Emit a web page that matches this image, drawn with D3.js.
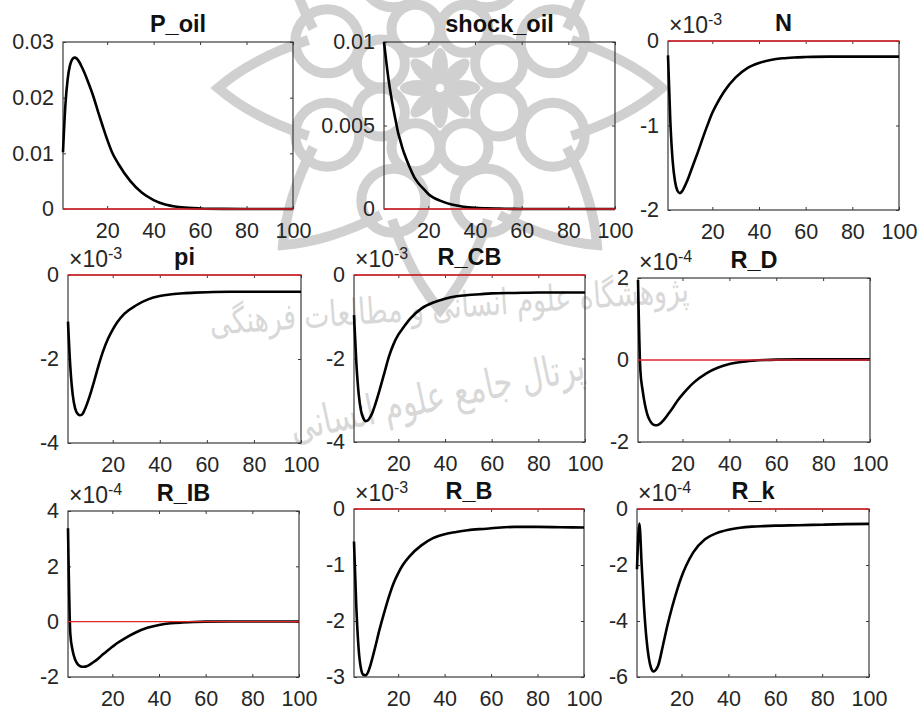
<!DOCTYPE html>
<html>
<head>
<meta charset="utf-8">
<script src="https://cdn.jsdelivr.net/npm/d3@7"></script>
<style>
body { margin: 0; background: #fff; }
svg { display: block; }
text { font-family: "Liberation Sans", Arial, Helvetica, sans-serif; }
</style>
</head>
<body>
<svg id="chart" width="924" height="716"></svg>
<script>
var periods = [1, 2, 3, 4, 5, 6, 7, 8, 9, 10, 12, 14, 16, 18, 20, 22, 25, 30, 35, 40, 45, 50, 55, 60, 70, 80, 90, 100];

// impulse responses, in the units shown on each panel (x10^exp where given)
var P_oil     = [0.0102, 0.0185, 0.0233, 0.0258, 0.0269, 0.0272, 0.0270, 0.0264, 0.0256, 0.0247, 0.0226, 0.0203, 0.0176, 0.0150, 0.0125, 0.0103, 0.0080, 0.0050, 0.0029, 0.0016, 0.0008, 0.0004, 0.0002, 0.0001, 0.00002, 0, 0, 0];
var shock_oil = [0.0100, 0.0088, 0.0077, 0.0068, 0.0060, 0.0053, 0.0046, 0.0041, 0.0036, 0.0032, 0.0025, 0.0019, 0.0015, 0.0012, 0.0009, 0.0007, 0.0005, 0.00027, 0.00014, 0.00007, 0.00004, 0.00002, 0.00001, 0, 0, 0, 0, 0];
var N         = [-0.17, -0.95, -1.42, -1.66, -1.77, -1.80, -1.78, -1.73, -1.67, -1.60, -1.45, -1.30, -1.14, -0.99, -0.85, -0.74, -0.60, -0.43, -0.32, -0.26, -0.225, -0.205, -0.195, -0.19, -0.185, -0.185, -0.185, -0.185];
var pi        = [-1.11, -2.20, -2.85, -3.17, -3.30, -3.34, -3.32, -3.22, -3.08, -2.92, -2.55, -2.15, -1.80, -1.52, -1.30, -1.12, -0.92, -0.72, -0.58, -0.50, -0.46, -0.435, -0.42, -0.41, -0.40, -0.40, -0.40, -0.40];
var R_CB      = [-0.96, -2.10, -2.85, -3.25, -3.43, -3.50, -3.48, -3.40, -3.28, -3.12, -2.75, -2.35, -1.95, -1.65, -1.43, -1.27, -1.05, -0.80, -0.66, -0.57, -0.51, -0.48, -0.46, -0.44, -0.43, -0.42, -0.42, -0.42];
var R_D       = [1.95, -0.25, -0.75, -1.10, -1.33, -1.47, -1.55, -1.585, -1.59, -1.57, -1.46, -1.31, -1.15, -0.98, -0.84, -0.71, -0.54, -0.33, -0.19, -0.10, -0.05, -0.02, 0, 0.01, 0.015, 0.015, 0.015, 0.015];
var R_IB      = [3.38, -0.45, -1.05, -1.36, -1.52, -1.60, -1.63, -1.63, -1.61, -1.57, -1.46, -1.33, -1.18, -1.04, -0.91, -0.78, -0.62, -0.39, -0.22, -0.12, -0.06, -0.03, -0.01, 0, 0.005, 0.005, 0.005, 0.005];
var R_B       = [-0.58, -1.75, -2.50, -2.85, -2.96, -2.97, -2.92, -2.80, -2.65, -2.49, -2.15, -1.85, -1.57, -1.33, -1.15, -1.00, -0.84, -0.65, -0.52, -0.45, -0.41, -0.38, -0.36, -0.345, -0.32, -0.32, -0.325, -0.33];
var R_k       = [-2.15, -0.52, -2.00, -3.50, -4.60, -5.30, -5.68, -5.80, -5.75, -5.60, -4.90, -4.15, -3.50, -2.92, -2.42, -2.02, -1.55, -1.08, -0.86, -0.74, -0.67, -0.63, -0.61, -0.595, -0.58, -0.56, -0.54, -0.53];

var titles = ["P_oil", "shock_oil", "N", "pi", "R_CB", "R_D", "R_IB", "R_B", "R_k"];
var seriesList = [P_oil, shock_oil, N, pi, R_CB, R_D, R_IB, R_B, R_k];
var yTicks = [
  [0, 0.01, 0.02, 0.03],
  [0, 0.005, 0.01],
  [-2, -1, 0],
  [-4, -2, 0],
  [-4, -2, 0],
  [-2, 0, 2],
  [-2, 0, 2, 4],
  [-3, -2, -1, 0],
  [-6, -4, -2, 0]
];
var exponents = [0, 0, -3, -3, -3, -4, -4, -3, -4];
var xTicks = [20, 40, 60, 80, 100];
var xDomain = [1, 100];

// watermark texts
var watermarkLines = ["پژوهشگاه علوم انسانی و مطالعات فرهنگی", "پرتال جامع علوم انسانی"];

// axes boxes [left, top, right, bottom]
var boxes = [
  [63, 42, 293, 209], [384, 42, 615, 209], [668, 41, 899, 210],
  [68, 275, 301, 443], [354, 275, 585, 442], [638, 278, 870, 442],
  [68, 511, 299, 677], [354, 509, 584, 677], [637, 509, 869, 677]
];

var svg = d3.select("#chart");
svg.append("rect").attr("width", 924).attr("height", 716).attr("fill", "#fff");

// ---- faint watermark (logo + text) ----
var wm = svg.append("g").attr("class", "watermark");
var wmColor = "#d0d0d0";
var cx = 440, cy = 88;
function polar(r, deg) {
  var a = deg * Math.PI / 180;
  return [cx + r * Math.cos(a), cy + r * Math.sin(a)];
}
d3.range(8).forEach(function(k) {
  var a = k * 45;
  // outer pointed arches
  var p1 = polar(140, a - 20), t = polar(222, a), p2 = polar(140, a + 20);
  var q1 = polar(190, a - 9), q2 = polar(190, a + 9);
  wm.append("path")
    .attr("d", "M" + p1 + "Q" + q1 + " " + t + "Q" + q2 + " " + p2)
    .attr("fill", "none").attr("stroke", wmColor).attr("stroke-width", 10);
  // inner ring
  var c1 = polar(64, a + 22.5);
  wm.append("circle").attr("cx", c1[0]).attr("cy", c1[1]).attr("r", 24)
    .attr("fill", "none").attr("stroke", wmColor).attr("stroke-width", 10);
  // outer ring
  var c2 = polar(122, a + 22.5);
  wm.append("circle").attr("cx", c2[0]).attr("cy", c2[1]).attr("r", 32)
    .attr("fill", "none").attr("stroke", wmColor).attr("stroke-width", 10);
  // rosette petals
  var c3 = polar(22, a);
  wm.append("ellipse").attr("cx", c3[0]).attr("cy", c3[1]).attr("rx", 18).attr("ry", 8)
    .attr("transform", "rotate(" + a + "," + c3[0] + "," + c3[1] + ")")
    .attr("fill", wmColor);
});
wm.append("text")
  .attr("transform", "translate(450,318) rotate(-4)")
  .attr("text-anchor", "middle")
  .attr("textLength", 480).attr("lengthAdjust", "spacingAndGlyphs")
  .style("font-family", "'DejaVu Sans', sans-serif")
  .style("font-size", "36px")
  .attr("fill", "#d8d8d8")
  .text(watermarkLines[0]);
wm.append("text")
  .attr("transform", "translate(440,410) rotate(-12)")
  .attr("text-anchor", "middle")
  .attr("textLength", 300).attr("lengthAdjust", "spacingAndGlyphs")
  .style("font-family", "'DejaVu Sans', sans-serif")
  .style("font-size", "42px")
  .attr("fill", "#d8d8d8")
  .text(watermarkLines[1]);

// ---- panels ----
var textColor = "#262626";
var boxColor = "#3a3a3a";

titles.forEach(function(title, i) {
  var b = boxes[i];
  var vals = seriesList[i];
  var ticks = yTicks[i];
  var x = d3.scaleLinear().domain(xDomain).range([b[0], b[2]]);
  var y = d3.scaleLinear().domain(d3.extent(ticks)).range([b[3], b[1]]);
  var g = svg.append("g").attr("class", "panel");

  var bottom = g.append("g").attr("transform", "translate(0," + b[3] + ")")
    .call(d3.axisBottom(x).tickValues(xTicks).tickSizeInner(-3).tickSizeOuter(0).tickPadding(14));
  var top = g.append("g").attr("transform", "translate(0," + b[1] + ")")
    .call(d3.axisTop(x).tickValues(xTicks).tickSizeInner(-3).tickSizeOuter(0).tickFormat(""));
  var left = g.append("g").attr("transform", "translate(" + b[0] + ",0)")
    .call(d3.axisLeft(y).tickValues(ticks).tickSizeInner(-3).tickSizeOuter(0).tickPadding(9)
      .tickFormat(function(d) { return String(d); }));
  var right = g.append("g").attr("transform", "translate(" + b[2] + ",0)")
    .call(d3.axisRight(y).tickValues(ticks).tickSizeInner(-3).tickSizeOuter(0).tickFormat(""));

  [bottom, top, left, right].forEach(function(ax) {
    ax.select(".domain").remove();
    ax.selectAll("line").attr("stroke", boxColor).attr("stroke-width", 1);
    ax.selectAll("text").attr("fill", textColor)
      .style("font-size", "21.5px").style("font-family", "'Liberation Sans', Arial, sans-serif");
  });

  g.append("rect")
    .attr("x", b[0]).attr("y", b[1])
    .attr("width", b[2] - b[0]).attr("height", b[3] - b[1])
    .attr("fill", "none").attr("stroke", boxColor).attr("stroke-width", 1.2);

  var pts = periods.map(function(p, j) { return [p, vals[j]]; });
  var line = d3.line()
    .x(function(d) { return x(d[0]); })
    .y(function(d) { return y(d[1]); })
    .curve(d3.curveMonotoneX);

  g.append("path").datum(pts)
    .attr("d", line)
    .attr("fill", "none")
    .attr("stroke", "#000")
    .attr("stroke-width", 2.6)
    .attr("stroke-linejoin", "round");

  g.append("path").datum([[xDomain[0], 0], [xDomain[1], 0]])
    .attr("d", d3.line().x(function(d) { return x(d[0]); }).y(function(d) { return y(d[1]); }))
    .attr("fill", "none")
    .attr("stroke", "#e3242b")
    .attr("stroke-width", 1.3);

  g.append("text")
    .attr("x", (b[0] + b[2]) / 2).attr("y", b[1] - 10)
    .attr("text-anchor", "middle")
    .attr("fill", "#111")
    .style("font-size", "23.5px").style("font-weight", "bold")
    .text(title);

  if (exponents[i] !== 0) {
    var ex = g.append("text")
      .attr("x", b[0] + 1).attr("y", b[1] - 8)
      .attr("fill", textColor)
      .style("font-size", "23px");
    ex.append("tspan").text("\u00d710");
    ex.append("tspan").attr("dy", -8).style("font-size", "16px").text(String(exponents[i]));
  }
});
</script>
</body>
</html>
